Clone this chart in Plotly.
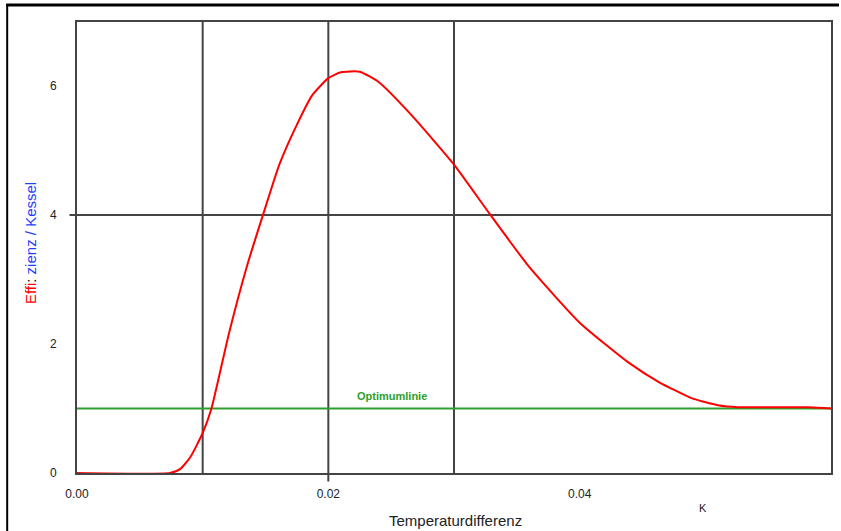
import plotly.graph_objects as go

# data
curve_x = [0.0, 0.0074, 0.0082, 0.0090, 0.0100, 0.0107, 0.0121, 0.0135, 0.0148, 0.0161,
           0.0175, 0.0187, 0.0200, 0.0210, 0.0225, 0.0240, 0.0266, 0.0300, 0.0329,
           0.0360, 0.0400, 0.0439, 0.0463, 0.0489, 0.0510, 0.0526, 0.0583, 0.0600]
curve_y = [0.0, 0.0, 0.06, 0.24, 0.62, 1.0, 2.17, 3.19, 4.0, 4.78,
           5.4, 5.85, 6.12, 6.21, 6.22, 6.06, 5.55, 4.78, 4.0,
           3.19, 2.33, 1.71, 1.41, 1.16, 1.05, 1.02, 1.02, 1.0]
optimum_x = [0.0, 0.06]
optimum_y = [1.0, 1.0]
x_ticks = [0.0, 0.02, 0.04, 0.06]
x_tick_labels = ["0.00", "0.02", "0.04", "0.06"]
y_ticks = [0, 2, 4, 6]
y_tick_labels = ["0", "2", "4", "6"]
grid_x = [0.01, 0.02, 0.03]
grid_y = [4]

W, H = 841, 531
L, T, R, B = 77, 22, 8, 58
pw, ph = W - L - R, H - T - B
x_range = [0, 0.06]
y_range = [0, 6.99]


def px(fx):
    return (fx - L) / pw


def py(fy):
    return (H - B - fy) / ph


fig = go.Figure()
fig.add_trace(go.Scatter(x=optimum_x, y=optimum_y, mode="lines",
                         line=dict(color="#2ca02c", width=2), hoverinfo="skip"))
fig.add_trace(go.Scatter(x=curve_x, y=curve_y, mode="lines",
                         line=dict(color="#ff0000", width=2, shape="spline", smoothing=0.5)))

frame = "#444444"
shapes = []
annotations = []
for gx in grid_x:
    shapes.append(dict(type="line", xref="x", yref="paper", x0=gx, x1=gx, y0=0, y1=1,
                       line=dict(color=frame, width=2), layer="below"))
    if gx in x_ticks:  # gridline continues below the axis as a tick mark
        annotations.append(dict(x=gx, y=y_range[0], xref="x", yref="y", text="",
                                showarrow=True, arrowhead=0, arrowwidth=2,
                                arrowcolor=frame, ax=0, ay=10, standoff=0,
                                startstandoff=0))
for gy in grid_y:
    shapes.append(dict(type="line", xref="paper", yref="y", x0=0, x1=1, y0=gy, y1=gy,
                       line=dict(color=frame, width=2), layer="below"))
    if gy in y_ticks:  # gridline continues left of the axis as a tick mark
        annotations.append(dict(x=x_range[0], y=gy, xref="x", yref="y", text="",
                                showarrow=True, arrowhead=0, arrowwidth=2,
                                arrowcolor=frame, ax=-9, ay=0, standoff=0,
                                startstandoff=0))
# outer border (top and left edges)
shapes.append(dict(type="line", xref="paper", yref="paper", x0=px(6), x1=px(W),
                   y0=py(5), y1=py(5), line=dict(color="black", width=3)))
shapes.append(dict(type="line", xref="paper", yref="paper", x0=px(7), x1=px(7),
                   y0=py(4), y1=py(H), line=dict(color="black", width=2)))

annotations += [
    dict(text="Temperaturdifferenz", xref="paper", yref="paper", x=px(457),
         y=py(520), xanchor="center", yanchor="middle", showarrow=False,
         font=dict(size=15, color="#222")),
    dict(text="K", xref="paper", yref="paper", x=px(705), y=py(508),
         xanchor="center", yanchor="middle", showarrow=False,
         font=dict(size=11, color="#222")),
    dict(text="<b>Optimumlinie</b>", xref="x", yref="y", x=0.0251, y=1.2,
         xanchor="center", yanchor="middle", showarrow=False,
         font=dict(size=11, color="#2ca02c")),
    dict(text="<span style='color:#ff0000'>Effi</span><span style='color:#222'>:</span>"
              "<span style='color:#1f3fff'> zienz / Kessel</span>",
         xref="paper", yref="paper", x=px(30), y=py(243),
         xanchor="center", yanchor="middle", showarrow=False, textangle=-90,
         font=dict(size=15)),
]

fig.update_layout(
    width=W, height=H,
    margin=dict(l=L, r=R, t=T, b=B),
    paper_bgcolor="white", plot_bgcolor="white",
    showlegend=False,
    font=dict(family="Liberation Sans, Arial", size=11, color="#222"),
    xaxis=dict(range=x_range, tickvals=x_ticks, ticktext=x_tick_labels,
               showgrid=False, zeroline=False, showline=True, linecolor=frame,
               linewidth=2, mirror=True, ticks="", ticklabelstandoff=9,
               tickfont=dict(size=12)),
    yaxis=dict(range=y_range, tickvals=y_ticks, ticktext=y_tick_labels,
               showgrid=False, zeroline=False, showline=True, linecolor=frame,
               linewidth=2, mirror=True, ticks="", ticklabelstandoff=16,
               tickfont=dict(size=12)),
    shapes=shapes,
    annotations=annotations,
)
fig.write_html("out.html", config={"displayModeBar": False},
               post_script="document.body.style.margin='0';document.body.style.overflow='hidden';")
